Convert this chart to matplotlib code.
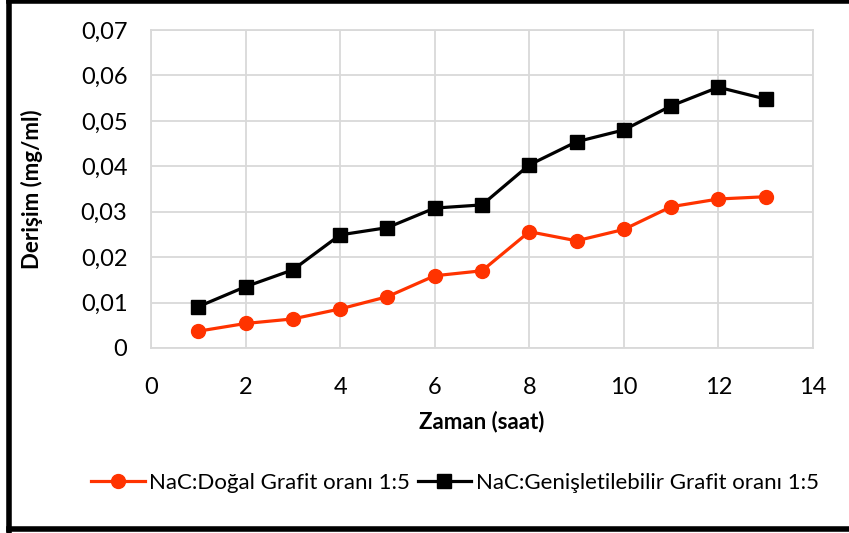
import matplotlib.pyplot as plt
from matplotlib.lines import Line2D
from matplotlib.ticker import FuncFormatter, MultipleLocator

plt.rcParams['font.family'] = ['Lato', 'DejaVu Sans']

zaman = [1, 2, 3, 4, 5, 6, 7, 8, 9, 10, 11, 12, 13]
dogal = [0.0037, 0.0054, 0.0064, 0.0086, 0.0113, 0.0159, 0.0170,
         0.0256, 0.0236, 0.0261, 0.0311, 0.0328, 0.0333]
genis = [0.0091, 0.0135, 0.0172, 0.0249, 0.0265, 0.0308, 0.0315,
         0.0403, 0.0454, 0.0480, 0.0533, 0.0574, 0.0548]

W, H = 849, 533
fig = plt.figure(figsize=(W / 100, H / 100), dpi=100)
ax = fig.add_axes([151 / W, 1 - 348 / H, 662 / W, 318 / H])

ax.plot(zaman, dogal, color='#FF3300', lw=2.3, marker='o', ms=10,
        label='NaC:Doğal Grafit oranı 1:5')
ax.plot(zaman, genis, color='black', lw=2.3, marker='s', ms=10,
        label='NaC:Genişletilebilir Grafit oranı 1:5')

ax.set_xlim(0, 14)
ax.set_ylim(0, 0.07)
ax.xaxis.set_major_locator(MultipleLocator(2))
ax.yaxis.set_major_locator(MultipleLocator(0.01))
ax.yaxis.set_major_formatter(FuncFormatter(
    lambda v, p: '0' if abs(v) < 1e-9 else f'{v:.2f}'.replace('.', ',')))
ax.grid(True, color='#D9D9D9', lw=1.3)
ax.set_axisbelow(True)
for s in ax.spines.values():
    s.set_color('#D9D9D9')
    s.set_linewidth(1.3)
ax.tick_params(length=0, labelsize=17)
ax.tick_params(axis='y', pad=17)
ax.tick_params(axis='x', pad=21)

ax.set_xlabel('Zaman (saat)', fontsize=16, fontweight='bold')
ax.set_ylabel('Derişim (mg/ml)', fontsize=16, fontweight='bold')
ax.xaxis.set_label_coords(0.5, (348 - 422) / 318)
ax.yaxis.set_label_coords((32 - 151) / 662, 0.5)
ax.xaxis.label.set_va('center')
ax.yaxis.label.set_va('center')

fig.legend(loc='center', bbox_to_anchor=(455 / W, 1 - 483 / H), ncol=2,
           frameon=False, fontsize=16, handlelength=2.4, columnspacing=0.35,
           handletextpad=0.2)

# black frame around the figure (right side is cut off in the original)
frame = dict(transform=fig.transFigure, color='black', lw=4,
             solid_capstyle='projecting')
fig.lines.append(Line2D([8.5 / W, 8.5 / W], [0 / H, 1 - 0 / H], **frame))
fig.lines.append(Line2D([8.5 / W, 1], [1 - 529 / H, 1 - 529 / H], **frame))
fig.lines.append(Line2D([8.5 / W, 1], [1 - 1 / H, 1 - 1 / H], **frame))

fig.savefig('out.png', dpi=100)
